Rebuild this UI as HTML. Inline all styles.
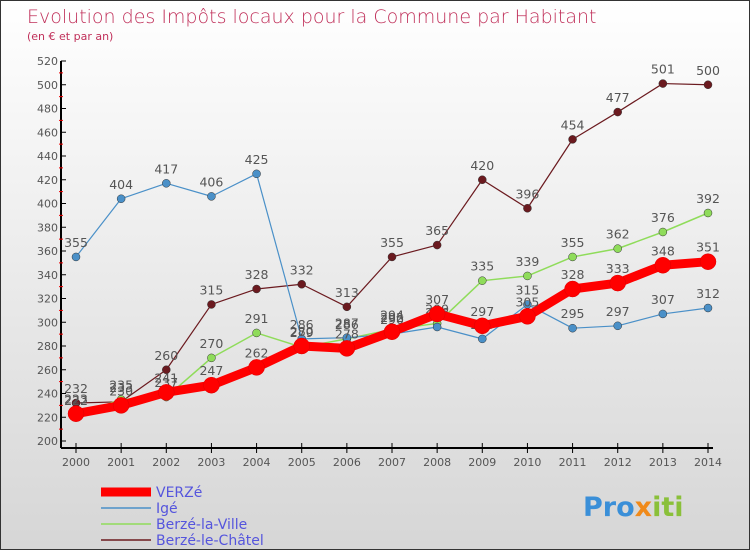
<!DOCTYPE html>
<html><head><meta charset="utf-8"><style>
body{margin:0;}
#c{width:750px;height:550px;position:relative;overflow:hidden;background:linear-gradient(#ffffff,#d6d6d6);box-sizing:border-box;border:1px solid #333;font-family:"DejaVu Sans","Liberation Sans",sans-serif;}
svg text{font-family:"DejaVu Sans","Liberation Sans",sans-serif;}
</style></head><body>
<div id="c">
<svg id="s" width="750" height="550">
<text x="26" y="22" font-size="19" fill="#c0305a" font-weight="200" style="font-family:'DejaVu Sans ExtraLight','DejaVu Sans',sans-serif">Evolution des Impôts locaux pour la Commune par Habitant</text>
<text x="26" y="39" font-size="11" fill="#c0305a">(en € et par an)</text>
<g id="axes"></g><g id="series"></g><g id="legend"></g>
<g><text x="582" y="515" font-size="27" font-weight="bold" fill="#3a8fd8">Pro<tspan fill="#f08a1a">x</tspan><tspan fill="#8ac03a">iti</tspan></text></g>
</svg></div>
<script>
const years=[2000,2001,2002,2003,2004,2005,2006,2007,2008,2009,2010,2011,2012,2013,2014];
const verze=[223,230,241,247,262,280,278,292,307,297,305,328,333,348,351];
const ige=[355,404,417,406,425,286,287,290,296,286,315,295,297,307,312];
const berzeVille=[222,235,237,270,291,279,286,294,299,335,339,355,362,376,392];
const berzeChatel=[232,233,260,315,328,332,313,355,365,420,396,454,477,501,500];
const yTicks=[200,220,240,260,280,300,320,340,360,380,400,420,440,460,480,500,520];
const names=["VERZé","Igé","Berzé-la-Ville","Berzé-le-Châtel"];
const NS="http://www.w3.org/2000/svg";
const X=i=>75+i*(707-75)/(years.length-1);
const Y=v=>440-(v-200)*(380/320);
function mk(t,a,p){const e=document.createElementNS(NS,t);for(const k in a)e.setAttribute(k,a[k]);p.appendChild(e);return e;}
const ax=document.getElementById('axes');
const yl=mk('line',{x1:60,y1:Y(520),x2:60,y2:447,stroke:'#000','stroke-width':2},ax);

const xl=mk('line',{x1:60,y1:447,x2:712,y2:447,stroke:'#000','stroke-width':2},ax);

yTicks.forEach(v=>{
 mk('line',{x1:60,y1:Y(v),x2:65,y2:Y(v),stroke:'#000'},ax);
 if(v<520)mk('line',{x1:58,y1:Y(v+10),x2:62,y2:Y(v+10),stroke:'#e00'},ax);
 const t=mk('text',{x:57,y:Y(v)+4,'font-size':11,fill:'#555','text-anchor':'end'},ax);t.textContent=v;
 
});
years.forEach((y,i)=>{
 mk('line',{x1:X(i),y1:442,x2:X(i),y2:452,stroke:'#000'},ax);
 const t=mk('text',{x:X(i),y:465,'font-size':11,fill:'#555','text-anchor':'middle'},ax);t.textContent=y;
 
});
const sg=document.getElementById('series');
const defs=[[berzeChatel,'#6b1a1f',1.2,4,'berze-le-chatel'],[berzeVille,'#8fdc5a',1.5,4,'berze-la-ville'],[ige,'#4a90c8',1.2,4,'ige'],[verze,'#ff0000',9,8,'verze']];
defs.forEach(([d,c,w,r,n])=>{
 const g=mk('g',{},sg);
 const p=mk('polyline',{points:d.map((v,i)=>X(i)+','+Y(v)).join(' '),fill:'none',stroke:c,'stroke-width':w,'stroke-linejoin':'round'},g);
 
 d.forEach((v,i)=>{
  const m=mk('circle',{cx:X(i),cy:Y(v),r:r,fill:c,stroke:n=='verze'?'#d00':'#333','stroke-width':0.5},g);
  
  const t=mk('text',{x:X(i),y:Y(v)-10,'font-size':12.5,fill:'#555','text-anchor':'middle'},g);t.textContent=v;
  
 });
});
const lg=document.getElementById('legend');
const lc=['#ff0000','#4a90c8','#8fdc5a','#6b1a1f'],lw=[9,1.5,1.5,1.5];
names.forEach((n,i)=>{
 const y=491+i*16;
 const g=mk('g',{},lg);
 mk('line',{x1:100,y1:y,x2:150,y2:y,stroke:lc[i],'stroke-width':lw[i]},g);
 const t=mk('text',{x:155,y:y+5,'font-size':14,fill:'#5555dd'},g);t.textContent=n;
});
</script>
</body></html>
